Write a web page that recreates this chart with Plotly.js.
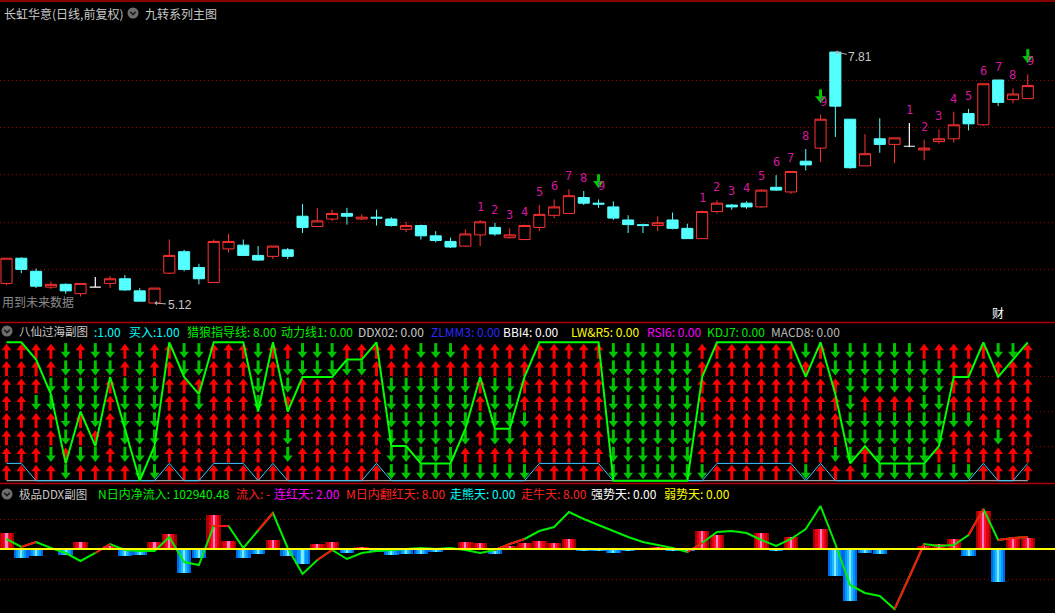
<!DOCTYPE html>
<html><head><meta charset="utf-8">
<script src="https://cdn.plot.ly/plotly-3.0.1.min.js"></script>
<style>html,body{margin:0;padding:0;background:#000;overflow:hidden}#chart{width:1055px;height:613px}</style>
</head><body><div id="chart"></div>
<script>
// ---------------- DATA ----------------
const open  = [5.33,5.60,5.46,5.29,5.32,5.22,5.29,5.33,5.38,5.25, 5.12,5.44,5.67,5.50,5.34,5.70,5.74,5.63,5.62,5.69,
               6.05,5.94,6.02,6.08,6.02,6.04,6.02,5.91,5.95,5.84, 5.78,5.73,5.85,5.93,5.82,5.80,5.93,6.06,6.08,6.25,
               6.19,6.15,6.01,5.96,5.95,6.01,5.92,5.81,6.10,6.17, 6.19,6.15,6.36,6.31,6.64,6.78,7.81,7.09,6.59,6.88,
               6.82,6.80,6.76,6.85,6.88,7.15,7.03,7.51,7.30,7.31];
const high  = [5.60,5.61,5.49,5.35,5.33,5.33,5.40,5.41,5.42,5.28, 5.28,5.80,5.69,5.54,5.80,5.86,5.80,5.73,5.73,5.71,
               6.18,6.14,6.12,6.14,6.07,6.12,6.04,5.99,5.96,5.89, 5.82,5.91,6.01,5.98,5.92,5.96,6.17,6.23,6.34,6.32,
               6.23,6.21,6.06,5.97,6.05,6.09,5.97,6.11,6.22,6.18, 6.21,6.34,6.49,6.53,6.77,7.14,7.81,7.09,6.93,7.10,
               6.89,7.05,6.87,6.98,7.17,7.20,7.47,7.51,7.42,7.57];
const low   = [5.31,5.44,5.28,5.27,5.22,5.19,5.29,5.28,5.25,5.14, 5.12,5.43,5.46,5.32,5.34,5.66,5.63,5.57,5.59,5.59,
               5.87,5.94,6.00,5.96,6.01,5.95,5.94,5.88,5.80,5.77, 5.71,5.72,5.73,5.84,5.81,5.80,5.89,6.03,6.08,6.17,
               6.14,6.01,5.87,5.87,5.89,5.91,5.81,5.81,6.08,6.12, 6.13,6.14,6.32,6.29,6.54,6.63,6.90,6.56,6.59,6.73,
               6.62,6.79,6.65,6.83,6.84,6.97,7.02,7.23,7.26,7.31];
const close = [5.60,5.48,5.30,5.32,5.25,5.33,5.29,5.38,5.26,5.14, 5.28,5.63,5.48,5.38,5.78,5.78,5.63,5.58,5.73,5.62,
               5.93,6.00,6.08,6.05,6.04,6.03,5.95,5.95,5.84,5.79, 5.72,5.86,5.99,5.86,5.85,5.95,6.07,6.15,6.27,6.19,
               6.18,6.03,5.96,5.95,5.98,5.92,5.81,6.10,6.19,6.15, 6.15,6.33,6.33,6.53,6.60,7.09,7.23,6.57,6.72,6.82,
               6.89,6.80,6.78,6.88,7.03,7.04,7.47,7.27,7.36,7.45];

// nine-turn counts (candle number -> label)
const countCandles = [33,34,35,36,37,38,39,40,41, 48,49,50,51,52,53,54,55,56, 62,63,64,65,66,67,68,69,70];
const countLabels  = ['1','2','3','4','5','6','7','8','9', '1','2','3','4','5','6','7','8','9', '1','2','3','4','5','6','7','8','9'];
const sellSignals  = [41,56,70];

// 八仙过海: 8 indicator rows (top -> bottom), U = red up arrow, D = green down arrow
const arrowRows = [
 "UUUUDUDDUD"+"UUDDUUUDUU"+"DDDUUUUUDD"+"DUUUUUUUUU"+"UDDDDDDUUU"+"UUUUDUDDDD"+"DDUUUUUDDU",
 "UUUUDDDDUD"+"UUDDUUUDUD"+"DDDDDUUUUU"+"UUUUUUUUUU"+"UDDDDDDUUU"+"UUUUUUDDDD"+"DDDDUUUUUU",
 "UUUDDDDUDD"+"DUUUUUUDUD"+"UUUUUUDDDD"+"DDUDDUUUUU"+"UDDDDDDUUU"+"UUUUUUUDDD"+"DDDDUUUUUU",
 "UUDDDDDUDD"+"DUUDUUUDUU"+"UUUUUUDDDD"+"DDUDDUUUUU"+"UDDDDDDUUU"+"UUUUUUUDUU"+"UUDDUUUUUU",
 "UUUUDUDUDD"+"DUUUUUUUUU"+"UUUUUUDDDD"+"DDDDDDUUUU"+"UDDDDDDDUU"+"UUUUUUUDDD"+"DDDDDDUUUU",
 "UUUUDUUUDD"+"DUUUUUUUUD"+"UUUUUUDDDD"+"DDUDDUUUUU"+"UDDDDDDUUU"+"UUUUUUUDDD"+"DDDDUUUDUU",
 "UUUDUDDUDD"+"DUUUUUUUUD"+"UUUUUUDDDD"+"DUUUUUUUUU"+"UDDDDDDUUU"+"UUUUUUDDUD"+"DDDUUUUUUU",
 "UUUUDUUUUD"+"DUUUUUUUUU"+"UUUUUUDDDD"+"DDDDDDUUUU"+"UDDDDDDDUU"+"UUUUDUUUDD"+"DDDDDDUUUU"
];
const guideLine = [8,8,7,5,1,4,2,6,3,0, 2,8,6,5,8,8,8,4,8,4, 6,6,6,7,7,8,2,2,1,1,
                   1,3,6,3,3,6,8,8,8,8, 8,0,0,0,0,0,0,6,8,8, 8,8,8,8,6,8,5,1,2,1,
                   1,1,1,2,6,6,8,6,7,8];
const buyLine   = [1,1,0,0,0,0,0,0,0,0, 0,1,0,0,1,1,1,0,1,0, 0,0,0,0,0,1,0,0,0,0,
                   0,0,0,0,0,0,1,1,1,1, 1,0,0,0,0,0,0,0,1,1, 1,1,1,1,0,1,0,0,0,0,
                   0,0,0,0,0,0,1,0,0,1];

// 极品DDX: bars and net inflow line
const ddxBar    = [16,-9,-7,1,-6,7,0,3,-7,-6, 7,15,-24,-9,34,8,-9,-5,9,-7,
                   -15,5,7,-4,2,-3,-6,-5,-5,-3, 0,7,6,-5,3,6,8,6,10,-2,
                   -2,-4,-2,0,2,-2,-2,18,14,-1, 0,16,-2,12,0,20,-27,-52,-4,-5,
                   0,0,3,5,10,-7,38,-33,11,11];
const netInflow = [10,2,7,1,-4,-12,-4,5,-1,-2, -2,12,-13,-16,23,23,1,19,36,1,
                   -25,-11,-1,-10,-4,-2,-1,0,1,0, 1,-1,-4,-1,5,10,18,22,37,30,
                   24,18,12,7,4,1,-3,6,17,18, 16,9,3,10,20,43,5,-36,-44,-47,
                   -60,-28,5,3,4,14,40,9,11,12];
const inflowRedSegEnds = [3,8,16,19,23,35,36,48,62,63,67,69,70];

// ---------------- LAYOUT HELPERS ----------------
const W = 1055, H = 613;
const days = open.map((_, i) => i + 1);
const FONT = '"Noto Sans CJK SC", "Noto Sans", sans-serif';
const pyPaper = px => 1 - px / H;
const pxPaper = px => px / W;

const MAIN = [22, 322], MID = [338, 482], BOT = [497, 613];
const mainRange = [4.9164, 8.1318];
const pxMain = (mainRange[1] - mainRange[0]) / (MAIN[1] - MAIN[0]);
const midRange = [-0.075, 8.249];
const pxMid = (midRange[1] - midRange[0]) / (MID[1] - MID[0]);
const botRange = [-64, 52];

const traces = [];

// ---- main candles ----
const isDoji = open.map((o, i) => o === close[i]);
const pick = (arr, keep) => arr.filter((_, i) => keep(i));
const normal = i => !isDoji[i], doji = i => isDoji[i];
traces.push({
  type: 'candlestick', xaxis: 'x', yaxis: 'y', hoverinfo: 'skip', whiskerwidth: 0,
  x: pick(days, normal), open: pick(open, normal), high: pick(high, normal), low: pick(low, normal), close: pick(close, normal),
  increasing: {line: {color: '#ff3232', width: 1}, fillcolor: '#000000'},
  decreasing: {line: {color: '#54ffff', width: 1}, fillcolor: '#54ffff'}
});
traces.push({
  type: 'candlestick', xaxis: 'x', yaxis: 'y', hoverinfo: 'skip', whiskerwidth: 0,
  x: pick(days, doji), open: pick(open, doji), high: pick(high, doji), low: pick(low, doji), close: pick(close, doji),
  increasing: {line: {color: '#ffffff', width: 1.2}, fillcolor: '#ffffff'},
  decreasing: {line: {color: '#ffffff', width: 1.2}, fillcolor: '#ffffff'}
});

// ---- sell-signal green arrows above the 9 ----
const sigHigh = sellSignals.map(d => high[d - 1]);
traces.push({type: 'scatter', mode: 'markers', xaxis: 'x', yaxis: 'y', hoverinfo: 'skip',
  x: sellSignals, y: sigHigh.map(h => h + 21 * pxMain),
  marker: {symbol: 'line-ns', size: 6, color: '#00c800', line: {width: 3, color: '#00c800'}}});
traces.push({type: 'scatter', mode: 'markers', xaxis: 'x', yaxis: 'y', hoverinfo: 'skip',
  x: sellSignals, y: sigHigh.map(h => h + 16 * pxMain),
  marker: {symbol: 'triangle-down', size: 9.5, color: '#00c800', line: {width: 0}}});

// ---- 八仙过海 arrows ----
const upX = [], upY = [], dnX = [], dnY = [];
arrowRows.forEach((row, r) => {
  const level = arrowRows.length - r - 0.5;
  [...row].forEach((c, i) => {
    if (c === 'U') { upX.push(days[i]); upY.push(level); } else { dnX.push(days[i]); dnY.push(level); }
  });
});
const headOff = 2.9 * pxMid, stemOff = 2.6 * pxMid;
const RED = '#ff0000', GRN = '#00c400';
traces.push({type: 'scatter', mode: 'markers', xaxis: 'x', yaxis: 'y2', hoverinfo: 'skip',
  x: upX, y: upY.map(v => v - stemOff), marker: {symbol: 'line-ns', size: 7.5, color: RED, line: {width: 3, color: RED}}});
traces.push({type: 'scatter', mode: 'markers', xaxis: 'x', yaxis: 'y2', hoverinfo: 'skip',
  x: upX, y: upY.map(v => v + headOff), marker: {symbol: 'triangle-up', size: 8.5, color: RED, line: {width: 0}}});
traces.push({type: 'scatter', mode: 'markers', xaxis: 'x', yaxis: 'y2', hoverinfo: 'skip',
  x: dnX, y: dnY.map(v => v + stemOff), marker: {symbol: 'line-ns', size: 7.5, color: GRN, line: {width: 3, color: GRN}}});
traces.push({type: 'scatter', mode: 'markers', xaxis: 'x', yaxis: 'y2', hoverinfo: 'skip',
  x: dnX, y: dnY.map(v => v - headOff), marker: {symbol: 'triangle-down', size: 8.5, color: GRN, line: {width: 0}}});
traces.push({type: 'scatter', mode: 'lines', xaxis: 'x', yaxis: 'y2', hoverinfo: 'skip',
  x: days, y: buyLine, line: {color: '#3cc8ff', width: 1}});
traces.push({type: 'scatter', mode: 'lines', xaxis: 'x', yaxis: 'y2', hoverinfo: 'skip',
  x: days, y: guideLine, line: {color: '#00ff00', width: 2}});

// ---- DDX bars (striped) ----
const barLayer = (width, pos, neg) => ({type: 'bar', xaxis: 'x', yaxis: 'y3', hoverinfo: 'skip',
  x: days, y: ddxBar, width: width,
  marker: {color: ddxBar.map(v => v >= 0 ? pos : neg), line: {width: 0}}});
traces.push(barLayer(0.98, '#a00000', '#0068e0'));
traces.push(barLayer(0.70, '#e00010', '#0098ff'));
traces.push(barLayer(0.40, '#ff1030', '#20b8ff'));
traces.push(barLayer(0.14, '#ff7fc4', '#80e8ff'));

// ---- net inflow line ----
traces.push({type: 'scatter', mode: 'lines', xaxis: 'x', yaxis: 'y3', hoverinfo: 'skip',
  x: days, y: netInflow, line: {color: '#00ee00', width: 2}});
const rX = [], rY = [];
inflowRedSegEnds.forEach(e => { rX.push(days[e - 2], days[e - 1], null); rY.push(netInflow[e - 2], netInflow[e - 1], null); });
traces.push({type: 'scatter', mode: 'lines', xaxis: 'x', yaxis: 'y3', hoverinfo: 'skip',
  x: rX, y: rY, connectgaps: false, line: {color: '#ff1010', width: 2}});

// ---------------- ANNOTATIONS ----------------
const ann = [];
const txt = (text, x, y, color, size) => ({xref: 'paper', yref: 'paper', x: pxPaper(x), y: pyPaper(y),
  xanchor: 'left', yanchor: 'middle', text: text, showarrow: false, font: {family: FONT, size: size || 12, color: color}});

ann.push(txt('长虹华意(日线,前复权)', 2, 13, '#c8c8c8'));
ann.push(txt('九转系列主图', 143, 13, '#c8c8c8'));
ann.push(txt('八仙过海副图', 17, 331, '#c8c8c8', 11.5));
ann.push(txt(':1.00', 92, 331, '#00ffff'));
ann.push(txt('买入:1.00', 127, 331, '#00ffff'));
ann.push(txt('猎狼指导线: 8.00', 185, 331, '#00ee00'));
ann.push(txt('动力线1: 0.00', 279, 331, '#00ee00'));
ann.push(txt('DDX02: 0.00', 356, 331, '#c8c8c8'));
ann.push(txt('ZLMM3: 0.00', 429, 331, '#2a2aff'));
ann.push(txt('BBI4: 0.00', 501, 331, '#ffffff'));
ann.push(txt('LW&amp;R5: 0.00', 569, 331, '#ffff00'));
ann.push(txt('RSI6: 0.00', 645, 331, '#ff00ff'));
ann.push(txt('KDJ7: 0.00', 705, 331, '#00ee00'));
ann.push(txt('MACD8: 0.00', 769, 331, '#b8b8b8'));
ann.push(txt('极品DDX副图', 17, 494, '#c8c8c8', 11.5));
ann.push(txt('N日内净流入: 102940.48', 96, 494, '#00ee00'));
ann.push(txt('流入: -', 234, 494, '#ff2020'));
ann.push(txt('连红天: 2.00', 272, 494, '#ff00ff'));
ann.push(txt('M日内翻红天: 8.00', 344, 494, '#ff2020'));
ann.push(txt('走熊天: 0.00', 448, 494, '#00ffff'));
ann.push(txt('走牛天: 8.00', 519, 494, '#ff2020'));
ann.push(txt('强势天: 0.00', 589, 494, '#ffffff'));
ann.push(txt('弱势天: 0.00', 662, 494, '#ffff00'));
ann.push(txt('用到未来数据', 0, 301, '#8c8c8c'));
ann.push(txt('财', 990, 313, '#ffffff'));

countCandles.forEach((d, k) => {
  const lab = countLabels[k];
  ann.push({xref: 'x', yref: 'y', x: d, y: high[d - 1], yshift: 13, xshift: lab === '9' ? 3 : 0,
    text: lab, showarrow: false, font: {family: '"DejaVu Sans Mono", monospace', size: 12, color: '#d2189c'}});
});

const minLow = Math.min(...low), maxHigh = Math.max(...high);
const minDay = days[low.indexOf(minLow)], maxDay = days[high.indexOf(maxHigh)];
const priceMark = (d, p, ay) => ({xref: 'x', yref: 'y', x: d, y: p, text: p.toFixed(2), showarrow: true,
  ax: 25, ay: ay, arrowhead: 1, arrowsize: 0.8, arrowwidth: 1, arrowcolor: '#b0b0b0', standoff: 0,
  font: {family: '"Liberation Sans", Arial, sans-serif', size: 12, color: '#c8c8c8'}});
ann.push(priceMark(minDay, minLow, 2));
ann.push(priceMark(maxDay, maxHigh, 5));

// ---------------- SHAPES ----------------
const shapes = [];
const hline = (py, color, w) => ({type: 'line', xref: 'paper', yref: 'paper', x0: 0, x1: 1, y0: pyPaper(py), y1: pyPaper(py),
  line: {color: color, width: w}, layer: 'above'});
shapes.push(hline(1, '#b00000', 1.5));
shapes.push(hline(322.5, '#b00000', 1.5));
shapes.push(hline(483.5, '#b00000', 1.5));
shapes.push({type: 'line', xref: 'x', yref: 'y2', x0: days[0], x1: days[days.length - 1], y0: 0, y1: 0,
  line: {color: '#c8c8c8', width: 1}, layer: 'below'});
shapes.push({type: 'line', xref: 'paper', yref: 'y3', x0: 0, x1: 1, y0: 0, y1: 0,
  line: {color: '#ffff00', width: 2}, layer: 'above'});
[[133, 13], [7, 331], [7, 494]].forEach(([cx, cy]) => {
  shapes.push({type: 'circle', xref: 'paper', yref: 'paper', x0: pxPaper(cx - 5.5), x1: pxPaper(cx + 5.5),
    y0: pyPaper(cy + 5.5), y1: pyPaper(cy - 5.5), fillcolor: '#6e6e6e', line: {width: 0}});
  shapes.push({type: 'path', xref: 'paper', yref: 'paper',
    path: `M ${pxPaper(cx - 2.8)} ${pyPaper(cy - 1.2)} L ${pxPaper(cx)} ${pyPaper(cy + 1.6)} L ${pxPaper(cx + 2.8)} ${pyPaper(cy - 1.2)}`,
    line: {color: '#1a1a1a', width: 1.6}});
});

// ---------------- LAYOUT ----------------
const yBase = {showticklabels: false, zeroline: false, showline: false, ticks: '', fixedrange: true,
  showgrid: true, griddash: '1px,3px', gridwidth: 1};
const layout = {
  width: W, height: H, margin: {l: 0, r: 0, t: 0, b: 0},
  paper_bgcolor: '#000000', plot_bgcolor: '#000000', showlegend: false,
  boxmode: 'overlay', boxgap: 0.25, boxgroupgap: 0,
  barmode: 'overlay', bargap: 0,
  xaxis: {range: [0.561, 71.84], visible: false, fixedrange: true, rangeslider: {visible: false}, showgrid: false, zeroline: false},
  yaxis: Object.assign({}, yBase, {domain: [pyPaper(MAIN[1]), pyPaper(MAIN[0])], range: mainRange,
    tickvals: [5.484, 5.988, 6.492, 6.996, 7.50], gridcolor: '#a00000'}),
  yaxis2: Object.assign({}, yBase, {domain: [pyPaper(MID[1]), pyPaper(MID[0])], range: midRange,
    tickvals: [2, 4, 6], gridcolor: '#8a0000'}),
  yaxis3: Object.assign({}, yBase, {domain: [pyPaper(BOT[1]), pyPaper(BOT[0])], range: botRange,
    tickvals: [-30, 30], gridcolor: '#a00000'}),
  shapes: shapes, annotations: ann
};
Plotly.newPlot('chart', traces, layout, {displayModeBar: false, staticPlot: true});
</script></body></html>
